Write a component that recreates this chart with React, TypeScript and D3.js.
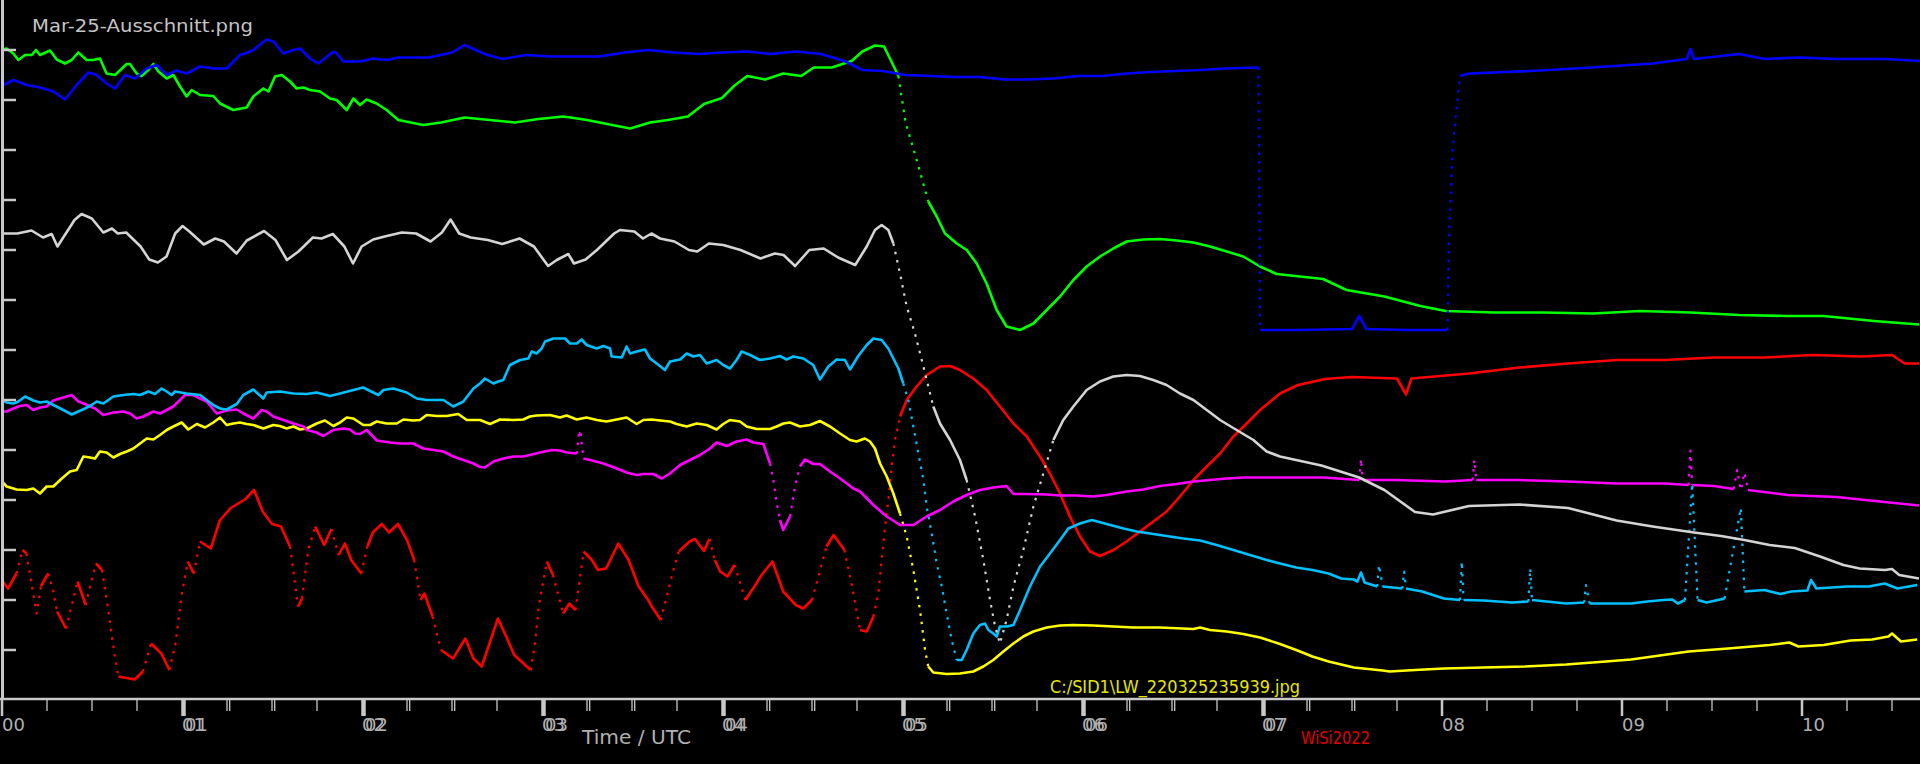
import React from 'react';
import * as d3 from 'd3';

type Pt = [number, number];

// hour of day (UTC), signal level in tick units (0 = time axis, 14 = top)
const blueData: Pt[] = [
  [0, 12.5], [0.007, 12.3], [0.063, 12.4], [0.137, 12.3], [0.211, 12.25], [0.285, 12.17], [0.35, 12.01], [0.415, 12.3],
  [0.48, 12.55], [0.526, 12.5], [0.581, 12.33], [0.628, 12.23], [0.683, 12.5], [0.739, 12.43], [0.804, 12.63], [0.859, 12.7],
  [0.915, 12.5], [0.97, 12.59], [1.026, 12.53], [1.1, 12.67], [1.174, 12.63], [1.248, 12.63], [1.322, 12.9], [1.35, 12.93],
  [1.396, 13.0], [1.47, 13.21], [1.507, 13.17], [1.563, 12.93], [1.619, 13.0], [1.656, 13.03], [1.711, 12.83], [1.757, 12.73],
  [1.841, 12.97], [1.859, 12.93], [1.896, 12.77], [1.989, 12.77], [2.063, 12.83], [2.137, 12.8], [2.202, 12.85], [2.37, 12.85],
  [2.5, 12.95], [2.57, 13.1], [2.68, 12.92], [2.78, 12.82], [2.91, 12.9], [3.05, 12.87], [3.19, 12.87], [3.32, 12.87],
  [3.46, 12.95], [3.59, 13.0], [3.73, 12.95], [3.87, 12.92], [4.0, 12.95], [4.14, 12.97], [4.27, 12.92], [4.41, 12.97],
  [4.55, 12.92], [4.68, 12.78], [4.78, 12.6], [4.89, 12.58], [5.02, 12.5], [5.16, 12.48], [5.29, 12.46], [5.43, 12.46],
  [5.57, 12.41], [5.7, 12.41], [5.84, 12.43], [5.98, 12.48], [6.11, 12.48], [6.25, 12.53], [6.38, 12.56], [6.52, 12.58],
  [6.66, 12.6], [6.79, 12.63], [6.98, 12.65], [6.985, 9.83], [6.99, 7.4], [7.2, 7.4], [7.5, 7.42], [7.54, 7.68],
  [7.58, 7.42], [7.8, 7.4], [8.03, 7.4], [8.04, 9.4], [8.06, 11.06], [8.08, 11.8], [8.1, 12.48], [8.15, 12.53],
  [8.49, 12.58], [8.83, 12.65], [9.17, 12.73], [9.36, 12.82], [9.38, 13.02], [9.4, 12.82], [9.65, 12.92], [9.79, 12.82],
  [9.99, 12.85], [10.19, 12.82], [10.46, 12.82], [10.66, 12.78],
];

const greenData: Pt[] = [
  [0, 13.01], [0.026, 13.03], [0.063, 12.93], [0.091, 12.8], [0.128, 12.9], [0.165, 12.9], [0.189, 13.0], [0.211, 12.9],
  [0.267, 12.99], [0.304, 12.81], [0.35, 12.73], [0.387, 12.8], [0.424, 12.95], [0.47, 12.8], [0.507, 12.8], [0.544, 12.83],
  [0.581, 12.53], [0.628, 12.5], [0.693, 12.72], [0.711, 12.72], [0.748, 12.53], [0.776, 12.48], [0.813, 12.6], [0.841, 12.72],
  [0.869, 12.57], [0.915, 12.43], [0.952, 12.5], [0.989, 12.27], [1.026, 12.07], [1.054, 12.2], [1.1, 12.1], [1.174, 12.08],
  [1.211, 11.93], [1.285, 11.8], [1.359, 11.85], [1.396, 12.07], [1.452, 12.23], [1.48, 12.17], [1.517, 12.47], [1.554, 12.5],
  [1.6, 12.37], [1.637, 12.23], [1.674, 12.25], [1.711, 12.2], [1.767, 12.17], [1.822, 12.03], [1.859, 12.0], [1.915, 11.8],
  [1.952, 12.03], [1.989, 11.9], [2.026, 12.01], [2.081, 11.93], [2.137, 11.8], [2.202, 11.6], [2.34, 11.5], [2.44, 11.55],
  [2.57, 11.65], [2.71, 11.6], [2.85, 11.55], [2.98, 11.62], [3.12, 11.67], [3.25, 11.6], [3.39, 11.5], [3.49, 11.43],
  [3.6, 11.55], [3.7, 11.6], [3.81, 11.67], [3.9, 11.92], [4.0, 12.04], [4.07, 12.29], [4.14, 12.48], [4.24, 12.41],
  [4.34, 12.53], [4.44, 12.48], [4.51, 12.65], [4.61, 12.65], [4.72, 12.78], [4.78, 12.97], [4.85, 13.09], [4.9, 13.07],
  [4.94, 12.78], [4.98, 12.48], [5.02, 11.55], [5.08, 10.82], [5.146, 9.97], [5.193, 9.67], [5.239, 9.33], [5.304, 9.13],
  [5.36, 9.0], [5.415, 8.73], [5.47, 8.33], [5.526, 7.8], [5.581, 7.47], [5.656, 7.4], [5.73, 7.53], [5.804, 7.8],
  [5.878, 8.07], [5.952, 8.4], [6.026, 8.67], [6.1, 8.87], [6.174, 9.03], [6.248, 9.17], [6.341, 9.21], [6.433, 9.22],
  [6.526, 9.19], [6.619, 9.15], [6.711, 9.07], [6.804, 8.97], [6.896, 8.87], [6.989, 8.67], [7.081, 8.52], [7.34, 8.42],
  [7.47, 8.2], [7.68, 8.07], [7.88, 7.88], [8.02, 7.78], [8.29, 7.75], [8.56, 7.75], [8.84, 7.73], [9.1, 7.78],
  [9.38, 7.75], [9.65, 7.7], [9.92, 7.68], [10.12, 7.68], [10.4, 7.58], [10.65, 7.51],
];

const whiteData: Pt[] = [
  [0, 9.33], [0.085, 9.33], [0.164, 9.39], [0.228, 9.25], [0.276, 9.32], [0.308, 9.07], [0.403, 9.6], [0.442, 9.72],
  [0.499, 9.63], [0.563, 9.35], [0.611, 9.43], [0.643, 9.33], [0.69, 9.35], [0.77, 9.07], [0.818, 8.81], [0.866, 8.75],
  [0.914, 8.87], [0.962, 9.33], [1.003, 9.48], [1.041, 9.37], [1.121, 9.11], [1.185, 9.23], [1.233, 9.17], [1.303, 8.93],
  [1.36, 9.19], [1.456, 9.38], [1.519, 9.2], [1.583, 8.8], [1.647, 8.97], [1.727, 9.25], [1.775, 9.23], [1.838, 9.32],
  [1.902, 9.07], [1.95, 8.73], [1.998, 9.07], [2.062, 9.21], [2.126, 9.27], [2.221, 9.35], [2.301, 9.33], [2.381, 9.17],
  [2.444, 9.35], [2.492, 9.61], [2.54, 9.33], [2.604, 9.25], [2.699, 9.2], [2.779, 9.12], [2.875, 9.23], [2.955, 9.07],
  [3.034, 8.68], [3.082, 8.8], [3.146, 8.92], [3.178, 8.73], [3.242, 8.81], [3.305, 9.0], [3.401, 9.33], [3.433, 9.4],
  [3.513, 9.37], [3.561, 9.23], [3.608, 9.33], [3.656, 9.23], [3.736, 9.17], [3.816, 9.0], [3.863, 8.97], [3.927, 9.13],
  [4.007, 9.1], [4.103, 9.0], [4.214, 8.83], [4.294, 8.93], [4.342, 8.9], [4.406, 8.68], [4.485, 9.0], [4.565, 9.03],
  [4.645, 8.85], [4.74, 8.7], [4.804, 9.07], [4.85, 9.4], [4.887, 9.5], [4.924, 9.4], [4.952, 9.13], [4.989, 8.53],
  [5.026, 7.87], [5.072, 7.33], [5.119, 6.67], [5.174, 5.87], [5.211, 5.53], [5.267, 5.2], [5.322, 4.8], [5.359, 4.4],
  [5.406, 3.67], [5.452, 2.8], [5.489, 2.0], [5.517, 1.47], [5.544, 1.13], [5.581, 1.6], [5.619, 2.27], [5.674, 3.0],
  [5.73, 3.87], [5.785, 4.53], [5.841, 5.2], [5.896, 5.6], [5.952, 5.87], [6.026, 6.2], [6.1, 6.37], [6.174, 6.47],
  [6.248, 6.5], [6.322, 6.48], [6.396, 6.4], [6.47, 6.3], [6.544, 6.13], [6.619, 6.0], [6.693, 5.8], [6.767, 5.6],
  [6.859, 5.4], [6.952, 5.2], [7.026, 4.97], [7.1, 4.87], [7.33, 4.69], [7.54, 4.45], [7.68, 4.2], [7.85, 3.76],
  [7.95, 3.71], [8.15, 3.88], [8.43, 3.91], [8.7, 3.84], [8.97, 3.59], [9.17, 3.47], [9.4, 3.35], [9.55, 3.28],
  [9.68, 3.2], [9.82, 3.1], [9.96, 3.04], [10.1, 2.87], [10.23, 2.7], [10.32, 2.63], [10.46, 2.6], [10.5, 2.62],
  [10.54, 2.5], [10.65, 2.43],
];

const cyanData: Pt[] = [
  [0, 6.0], [0.026, 5.95], [0.063, 5.93], [0.091, 5.97], [0.128, 6.07], [0.174, 5.99], [0.211, 5.95], [0.248, 5.97],
  [0.285, 5.9], [0.341, 5.8], [0.387, 5.71], [0.424, 5.77], [0.461, 5.83], [0.498, 5.9], [0.526, 5.97], [0.563, 5.93],
  [0.619, 6.07], [0.674, 6.1], [0.73, 6.12], [0.767, 6.1], [0.813, 6.17], [0.85, 6.12], [0.887, 6.23], [0.915, 6.17],
  [0.943, 6.1], [0.961, 6.17], [1.026, 6.13], [1.1, 6.1], [1.137, 6.0], [1.174, 5.9], [1.211, 5.83], [1.248, 5.81],
  [1.304, 5.92], [1.341, 6.1], [1.396, 6.21], [1.452, 6.03], [1.47, 6.15], [1.544, 6.17], [1.619, 6.13], [1.693, 6.12],
  [1.748, 6.15], [1.822, 6.08], [1.878, 6.13], [1.952, 6.2], [2.007, 6.25], [2.045, 6.18], [2.091, 6.1], [2.119, 6.2],
  [2.174, 6.23], [2.248, 6.15], [2.304, 6.03], [2.359, 6.0], [2.452, 6.0], [2.507, 5.87], [2.563, 5.97], [2.619, 6.23],
  [2.656, 6.33], [2.683, 6.43], [2.73, 6.33], [2.757, 6.37], [2.785, 6.4], [2.822, 6.7], [2.878, 6.8], [2.924, 6.83],
  [2.943, 6.97], [2.97, 6.93], [2.998, 7.03], [3.017, 7.17], [3.063, 7.23], [3.128, 7.23], [3.156, 7.13], [3.193, 7.13],
  [3.22, 7.21], [3.248, 7.1], [3.304, 7.03], [3.341, 7.08], [3.378, 7.03], [3.387, 6.87], [3.443, 6.85], [3.47, 7.07],
  [3.489, 6.93], [3.526, 6.97], [3.572, 7.01], [3.6, 6.83], [3.637, 6.73], [3.683, 6.6], [3.711, 6.77], [3.767, 6.81],
  [3.804, 6.93], [3.841, 6.87], [3.878, 6.9], [3.915, 6.73], [3.97, 6.8], [4.007, 6.7], [4.044, 6.63], [4.081, 6.8],
  [4.109, 6.97], [4.156, 6.9], [4.211, 6.8], [4.267, 6.83], [4.322, 6.88], [4.359, 6.81], [4.396, 6.87], [4.452, 6.83],
  [4.507, 6.7], [4.544, 6.41], [4.591, 6.67], [4.637, 6.81], [4.683, 6.8], [4.711, 6.61], [4.757, 6.88], [4.804, 7.1],
  [4.841, 7.23], [4.887, 7.2], [4.924, 7.03], [4.952, 6.83], [4.98, 6.63], [5.007, 6.33], [5.035, 6.0], [5.063, 5.47],
  [5.091, 4.93], [5.119, 4.4], [5.137, 3.87], [5.165, 3.33], [5.193, 2.73], [5.221, 2.27], [5.248, 1.73], [5.276, 1.2],
  [5.304, 0.8], [5.332, 0.8], [5.359, 1.0], [5.396, 1.33], [5.433, 1.5], [5.461, 1.53], [5.48, 1.4], [5.507, 1.33],
  [5.526, 1.27], [5.544, 1.47], [5.581, 1.47], [5.619, 1.5], [5.656, 1.8], [5.711, 2.27], [5.767, 2.67], [5.822, 2.93],
  [5.878, 3.2], [5.924, 3.43], [5.989, 3.53], [6.054, 3.6], [6.137, 3.52], [6.23, 3.43], [6.304, 3.37], [6.378, 3.33],
  [6.47, 3.28], [6.563, 3.23], [6.656, 3.19], [6.748, 3.1], [6.841, 3.0], [6.933, 2.9], [7.026, 2.8], [7.1, 2.73],
  [7.19, 2.65], [7.28, 2.6], [7.37, 2.53], [7.44, 2.43], [7.51, 2.41], [7.53, 2.37], [7.55, 2.55], [7.57, 2.35],
  [7.64, 2.27], [7.65, 2.7], [7.67, 2.27], [7.78, 2.23], [7.79, 2.57], [7.8, 2.23], [7.89, 2.17], [8.01, 2.03],
  [8.1, 2.0], [8.11, 2.77], [8.12, 2.0], [8.23, 1.99], [8.39, 1.95], [8.48, 1.97], [8.49, 2.63], [8.5, 2.0],
  [8.69, 1.93], [8.79, 1.95], [8.8, 2.3], [8.82, 1.93], [9.05, 1.93], [9.14, 1.97], [9.23, 2.0], [9.28, 2.01],
  [9.31, 1.93], [9.35, 2.0], [9.39, 4.33], [9.42, 2.0], [9.47, 1.95], [9.57, 2.03], [9.66, 3.84], [9.68, 2.17],
  [9.79, 2.2], [9.88, 2.12], [9.94, 2.17], [10.03, 2.19], [10.05, 2.4], [10.08, 2.23], [10.25, 2.27], [10.37, 2.27],
  [10.46, 2.33], [10.53, 2.23], [10.64, 2.3],
];

const magentaData: Pt[] = [
  [0, 5.77], [0.026, 5.77], [0.063, 5.83], [0.1, 5.88], [0.137, 5.9], [0.174, 5.8], [0.211, 5.85], [0.248, 5.87],
  [0.285, 5.99], [0.322, 6.03], [0.359, 6.07], [0.387, 6.1], [0.424, 5.97], [0.461, 5.92], [0.489, 5.87], [0.517, 5.83],
  [0.563, 5.7], [0.619, 5.75], [0.674, 5.77], [0.711, 5.73], [0.748, 5.63], [0.785, 5.67], [0.841, 5.77], [0.878, 5.73],
  [0.915, 5.8], [0.952, 5.87], [0.989, 6.0], [1.017, 6.1], [1.063, 6.1], [1.1, 6.03], [1.137, 5.97], [1.193, 5.73],
  [1.248, 5.79], [1.304, 5.81], [1.341, 5.73], [1.396, 5.63], [1.443, 5.8], [1.47, 5.77], [1.507, 5.67], [1.563, 5.6],
  [1.619, 5.53], [1.674, 5.47], [1.693, 5.4], [1.748, 5.35], [1.785, 5.28], [1.841, 5.4], [1.896, 5.43], [1.933, 5.41],
  [1.961, 5.33], [1.989, 5.32], [2.026, 5.4], [2.082, 5.19], [2.156, 5.15], [2.211, 5.13], [2.285, 5.13], [2.341, 5.03],
  [2.396, 5.0], [2.452, 4.97], [2.507, 4.87], [2.563, 4.8], [2.619, 4.73], [2.656, 4.66], [2.683, 4.65], [2.73, 4.77],
  [2.785, 4.83], [2.841, 4.87], [2.896, 4.87], [2.933, 4.9], [2.989, 4.95], [3.054, 5.0], [3.1, 4.99], [3.137, 4.95],
  [3.193, 4.93], [3.205, 5.33], [3.215, 5.33], [3.23, 4.83], [3.267, 4.8], [3.341, 4.73], [3.415, 4.63], [3.47, 4.55],
  [3.526, 4.5], [3.563, 4.52], [3.619, 4.52], [3.665, 4.43], [3.711, 4.53], [3.767, 4.7], [3.822, 4.8], [3.878, 4.9],
  [3.933, 5.03], [3.97, 5.15], [4.026, 5.08], [4.081, 5.17], [4.137, 5.21], [4.174, 5.15], [4.23, 5.12], [4.248, 4.93],
  [4.267, 4.73], [4.285, 4.4], [4.304, 3.93], [4.322, 3.6], [4.34, 3.4], [4.378, 3.67], [4.406, 4.27], [4.433, 4.67],
  [4.461, 4.81], [4.507, 4.72], [4.544, 4.72], [4.6, 4.57], [4.656, 4.43], [4.73, 4.23], [4.767, 4.17], [4.841, 3.9],
  [4.915, 3.67], [4.989, 3.5], [5.063, 3.5], [5.137, 3.67], [5.211, 3.8], [5.285, 3.97], [5.359, 4.1], [5.433, 4.2],
  [5.507, 4.25], [5.581, 4.28], [5.619, 4.12], [5.693, 4.12], [5.804, 4.11], [5.878, 4.09], [5.971, 4.09], [6.063, 4.07],
  [6.137, 4.1], [6.248, 4.17], [6.341, 4.21], [6.433, 4.28], [6.526, 4.32], [6.619, 4.37], [6.711, 4.4], [6.804, 4.43],
  [6.896, 4.45], [6.989, 4.45], [7.1, 4.45], [7.34, 4.45], [7.54, 4.4], [7.55, 4.82], [7.56, 4.4], [7.74, 4.4],
  [8.02, 4.37], [8.17, 4.4], [8.18, 4.8], [8.19, 4.4], [8.42, 4.4], [8.7, 4.37], [8.97, 4.33], [9.24, 4.33],
  [9.37, 4.3], [9.38, 4.99], [9.39, 4.3], [9.51, 4.28], [9.62, 4.22], [9.64, 4.6], [9.66, 4.2], [9.68, 4.55],
  [9.7, 4.2], [9.92, 4.1], [10.19, 4.06], [10.46, 3.96], [10.65, 3.89],
];

const yellowData: Pt[] = [
  [0, 4.37], [0.026, 4.27], [0.081, 4.21], [0.137, 4.2], [0.174, 4.23], [0.211, 4.13], [0.248, 4.27], [0.285, 4.27],
  [0.332, 4.43], [0.378, 4.57], [0.415, 4.6], [0.452, 4.87], [0.489, 4.85], [0.517, 4.83], [0.544, 4.97], [0.581, 4.95],
  [0.619, 4.85], [0.656, 4.92], [0.693, 4.97], [0.73, 5.03], [0.767, 5.13], [0.804, 5.23], [0.841, 5.21], [0.878, 5.3],
  [0.915, 5.4], [0.952, 5.47], [0.998, 5.55], [1.035, 5.41], [1.082, 5.52], [1.128, 5.45], [1.174, 5.55], [1.211, 5.65],
  [1.248, 5.5], [1.285, 5.53], [1.322, 5.55], [1.359, 5.52], [1.396, 5.5], [1.452, 5.43], [1.507, 5.5], [1.544, 5.48],
  [1.581, 5.43], [1.619, 5.47], [1.656, 5.41], [1.693, 5.43], [1.748, 5.53], [1.794, 5.59], [1.841, 5.48], [1.878, 5.55],
  [1.915, 5.65], [1.952, 5.63], [2.007, 5.5], [2.045, 5.5], [2.082, 5.57], [2.137, 5.53], [2.193, 5.53], [2.23, 5.61],
  [2.285, 5.59], [2.322, 5.6], [2.359, 5.7], [2.415, 5.68], [2.47, 5.68], [2.535, 5.72], [2.582, 5.6], [2.656, 5.6],
  [2.711, 5.52], [2.767, 5.61], [2.841, 5.6], [2.896, 5.61], [2.933, 5.67], [2.97, 5.69], [3.044, 5.7], [3.1, 5.65],
  [3.137, 5.69], [3.193, 5.61], [3.248, 5.65], [3.304, 5.6], [3.359, 5.57], [3.415, 5.61], [3.47, 5.65], [3.526, 5.52],
  [3.563, 5.6], [3.609, 5.61], [3.656, 5.59], [3.711, 5.57], [3.748, 5.52], [3.804, 5.47], [3.859, 5.53], [3.915, 5.5],
  [3.97, 5.41], [4.007, 5.52], [4.044, 5.6], [4.1, 5.57], [4.137, 5.47], [4.193, 5.42], [4.267, 5.42], [4.304, 5.47],
  [4.341, 5.53], [4.378, 5.55], [4.433, 5.47], [4.489, 5.5], [4.544, 5.58], [4.6, 5.47], [4.656, 5.33], [4.711, 5.2],
  [4.748, 5.17], [4.794, 5.23], [4.822, 5.17], [4.85, 5.03], [4.878, 4.73], [4.915, 4.47], [4.952, 4.13], [4.989, 3.73],
  [5.026, 3.27], [5.063, 2.6], [5.1, 1.8], [5.128, 1.0], [5.146, 0.67], [5.174, 0.55], [5.248, 0.52], [5.322, 0.53],
  [5.396, 0.57], [5.452, 0.67], [5.507, 0.8], [5.563, 0.97], [5.619, 1.13], [5.674, 1.27], [5.73, 1.37], [5.804, 1.45],
  [5.878, 1.49], [5.952, 1.5], [6.063, 1.49], [6.174, 1.47], [6.285, 1.45], [6.433, 1.45], [6.619, 1.42], [6.656, 1.45],
  [6.711, 1.4], [6.804, 1.37], [6.896, 1.32], [6.989, 1.25], [7.1, 1.12], [7.19, 1.0], [7.28, 0.87], [7.37, 0.77],
  [7.51, 0.65], [7.67, 0.59], [7.71, 0.57], [7.85, 0.6], [8.01, 0.63], [8.23, 0.65], [8.46, 0.67], [8.69, 0.71],
  [8.91, 0.77], [9.05, 0.81], [9.23, 0.9], [9.37, 0.97], [9.59, 1.03], [9.82, 1.1], [9.93, 1.15], [9.98, 1.07],
  [10.12, 1.1], [10.27, 1.19], [10.39, 1.21], [10.48, 1.27], [10.5, 1.33], [10.55, 1.17], [10.64, 1.21],
];

const redData: Pt[] = [
  [0, 2.4], [0.012, 2.33], [0.034, 2.23], [0.08, 2.53], [0.114, 3.0], [0.136, 2.93], [0.17, 2.2], [0.193, 1.73],
  [0.216, 2.27], [0.256, 2.53], [0.284, 2.2], [0.306, 1.77], [0.356, 1.43], [0.386, 1.87], [0.42, 2.37], [0.465, 1.9],
  [0.522, 2.73], [0.556, 2.6], [0.59, 1.8], [0.624, 0.93], [0.647, 0.47], [0.737, 0.41], [0.783, 0.57], [0.828, 1.13],
  [0.885, 0.93], [0.93, 0.6], [0.964, 1.13], [0.998, 2.1], [1.032, 2.77], [1.066, 2.53], [1.1, 3.17], [1.16, 3.03],
  [1.21, 3.59], [1.27, 3.84], [1.35, 4.01], [1.4, 4.2], [1.45, 3.76], [1.5, 3.52], [1.55, 3.47], [1.6, 3.07],
  [1.645, 1.87], [1.667, 2.03], [1.701, 3.0], [1.74, 3.47], [1.79, 3.1], [1.83, 3.42], [1.87, 2.9], [1.905, 3.13],
  [1.94, 2.8], [1.996, 2.53], [2.03, 3.07], [2.06, 3.35], [2.11, 3.52], [2.15, 3.35], [2.2, 3.52], [2.25, 3.2],
  [2.29, 2.8], [2.325, 2.0], [2.347, 2.13], [2.392, 1.67], [2.438, 1.0], [2.506, 0.83], [2.574, 1.23], [2.619, 0.83],
  [2.665, 0.67], [2.755, 1.63], [2.801, 1.27], [2.846, 0.9], [2.937, 0.6], [2.959, 1.07], [2.982, 1.87], [3.027, 2.77],
  [3.061, 2.5], [3.118, 1.73], [3.152, 1.93], [3.186, 1.8], [3.231, 2.97], [3.277, 2.8], [3.311, 2.6], [3.356, 2.63],
  [3.424, 3.13], [3.481, 2.8], [3.537, 2.27], [3.59, 2.0], [3.61, 1.87], [3.66, 1.6], [3.69, 2.03], [3.73, 2.6],
  [3.76, 2.97], [3.82, 3.17], [3.85, 3.22], [3.9, 2.98], [3.93, 3.22], [3.96, 2.8], [3.99, 2.57], [4.03, 2.47],
  [4.07, 2.7], [4.13, 2.0], [4.18, 2.27], [4.22, 2.5], [4.28, 2.77], [4.34, 2.17], [4.41, 1.9], [4.45, 1.83],
  [4.5, 2.0], [4.54, 2.53], [4.58, 3.07], [4.62, 3.3], [4.64, 3.2], [4.68, 3.0], [4.72, 2.33], [4.767, 1.4],
  [4.804, 1.37], [4.841, 1.67], [4.869, 2.13], [4.887, 2.8], [4.906, 3.47], [4.924, 4.0], [4.943, 4.67], [4.961, 5.2],
  [4.989, 5.67], [5.026, 6.0], [5.081, 6.27], [5.137, 6.5], [5.211, 6.67], [5.267, 6.68], [5.322, 6.6], [5.396, 6.43],
  [5.47, 6.2], [5.544, 5.87], [5.619, 5.53], [5.693, 5.27], [5.767, 4.87], [5.822, 4.53], [5.878, 4.13], [5.933, 3.67],
  [5.989, 3.27], [6.044, 2.97], [6.1, 2.88], [6.174, 3.0], [6.248, 3.17], [6.322, 3.37], [6.396, 3.57], [6.47, 3.77],
  [6.544, 4.07], [6.619, 4.4], [6.693, 4.67], [6.767, 4.93], [6.841, 5.27], [6.915, 5.53], [6.989, 5.8], [7.1, 6.13],
  [7.2, 6.3], [7.35, 6.42], [7.5, 6.46], [7.75, 6.43], [7.8, 6.11], [7.83, 6.43], [8.15, 6.53], [8.43, 6.65],
  [8.7, 6.73], [8.97, 6.8], [9.24, 6.8], [9.51, 6.85], [9.79, 6.85], [10.06, 6.9], [10.33, 6.87], [10.5, 6.9],
  [10.57, 6.73], [10.65, 6.73],
];

const seriesList: { name: string; color: string; data: Pt[] }[] = [
  { name: 'red', color: '#ff0000', data: redData },
  { name: 'yellow', color: '#ffff00', data: yellowData },
  { name: 'magenta', color: '#ff00ff', data: magentaData },
  { name: 'cyan', color: '#00c0ff', data: cyanData },
  { name: 'white', color: '#d4d4d4', data: whiteData },
  { name: 'green', color: '#00ff00', data: greenData },
  { name: 'blue', color: '#0000ff', data: blueData },
];

const hourLabels = ['00', '01', '02', '03', '04', '05', '06', '07', '08', '09', '10'];
const doubledHours = [1, 2, 3, 4, 5, 6, 7];
const levelTicks = [1, 2, 3, 4, 5, 6, 7, 8, 9, 10, 11, 12, 13];

const W = 1920;
const H = 764;

const App = () => {
  const x = d3.scaleLinear().domain([0, 10]).range([2, 1802]);
  const y = d3.scaleLinear().domain([0, 14]).range([700, 0]);
  const axisY = y(0) - 1;
  const grey = '#c8c8c8';

  const minorTicks = d3.range(0.25, 10.6, 0.25).filter((t) => Math.abs(t - Math.round(t)) > 0.01);
  const line = d3.line<[number, number]>().x((d) => d[0]).y((d) => d[1]);

  // split each series into runs: gentle slopes drawn solid, steep ones sparse (like spread-out markers)
  const runsFor = (data: Pt[]) => {
    const px = data.map(([h, v]) => [x(h), y(v)] as [number, number]);
    const runs: { steep: boolean; pts: [number, number][] }[] = [];
    for (let i = 1; i < px.length; i++) {
      const dx = Math.abs(px[i][0] - px[i - 1][0]);
      const dy = Math.abs(px[i][1] - px[i - 1][1]);
      const steep = dy > 3.2 * Math.max(dx, 0.5) && dy > 12;
      const last = runs[runs.length - 1];
      if (last && last.steep === steep) last.pts.push(px[i]);
      else runs.push({ steep, pts: [px[i - 1], px[i]] });
    }
    return runs;
  };

  const isDoubledMinor = (t: number) => {
    const hr = Math.floor(t);
    const frac = t - hr;
    return doubledHours.includes(hr) && (Math.abs(frac - 0.25) < 0.01 || Math.abs(frac - 0.5) < 0.01);
  };

  return (
    <svg
      width={W}
      height={H}
      viewBox={`0 0 ${W} ${H}`}
      style={{ position: 'absolute', left: 0, top: 0, display: 'block', background: '#000' }}
    >
      <rect x={0} y={0} width={W} height={H} fill="#000" />

      {/* series */}
      {seriesList.map((s) => (
        <g key={s.name}>
          {runsFor(s.data).map((r, i) => (
            <path
              key={i}
              d={line(r.pts) || ''}
              fill="none"
              stroke={s.color}
              strokeWidth={r.steep ? 2.2 : 2.6}
              strokeDasharray={r.steep ? '2.5 6' : undefined}
              strokeLinejoin="round"
            />
          ))}
        </g>
      ))}

      {/* left axis */}
      <line x1={2.5} x2={2.5} y1={0} y2={axisY} stroke={grey} strokeWidth={3} />
      {levelTicks.map((t) => (
        <line key={t} x1={2} x2={16} y1={y(t)} y2={y(t)} stroke={grey} strokeWidth={2.5} />
      ))}

      {/* time axis */}
      <line x1={0} x2={W} y1={axisY} y2={axisY} stroke={grey} strokeWidth={2.5} />
      {minorTicks.map((t) => (
        <g key={t}>
          <line x1={x(t)} x2={x(t)} y1={axisY} y2={axisY + 12} stroke={grey} strokeWidth={1.3} />
          {isDoubledMinor(t) && (
            <line x1={x(t) + 2.7} x2={x(t) + 2.7} y1={axisY} y2={axisY + 12} stroke={grey} strokeWidth={1.3} />
          )}
        </g>
      ))}
      {hourLabels.map((lab, i) => {
        const dbl = doubledHours.includes(i);
        return (
          <g key={lab}>
            <line
              x1={x(i) + (dbl ? 1.5 : 0)}
              x2={x(i) + (dbl ? 1.5 : 0)}
              y1={axisY}
              y2={axisY + 17}
              stroke={grey}
              strokeWidth={dbl ? 4.5 : 2.5}
            />
            <text x={x(i)} y={731} fill="#b0b0b0" fontFamily="DejaVu Sans" fontSize={18}>
              {lab}
            </text>
            {dbl && (
              <text x={x(i) + 3} y={731} fill="#b0b0b0" fontFamily="DejaVu Sans" fontSize={18}>
                {lab}
              </text>
            )}
          </g>
        );
      })}

      {/* texts */}
      <text x={32} y={32} fill="#c4c4c4" fontFamily="DejaVu Sans" fontSize={18.5} textLength={221} lengthAdjust="spacingAndGlyphs">
        Mar-25-Ausschnitt.png
      </text>
      <text x={582} y={744} fill="#b0b0b0" fontFamily="DejaVu Sans" fontSize={20} textLength={109} lengthAdjust="spacingAndGlyphs">
        Time / UTC
      </text>
      <text x={1301} y={744} fill="#e00000" fontFamily="DejaVu Sans" fontSize={17} textLength={69} lengthAdjust="spacingAndGlyphs">
        WiSi2022
      </text>
      <text x={1050} y={693} fill="#e6e600" fontFamily="DejaVu Sans" fontSize={17} textLength={250} lengthAdjust="spacingAndGlyphs">
        C:/SID1\LW_220325235939.jpg
      </text>
    </svg>
  );
};

export default App;
